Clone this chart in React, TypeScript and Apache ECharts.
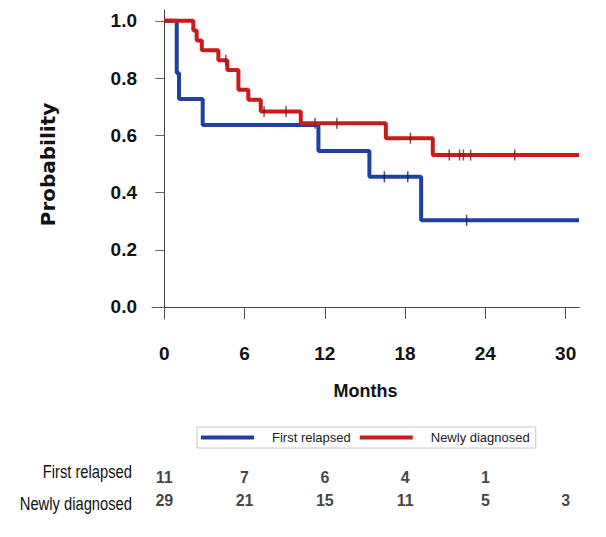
import React, { useEffect, useRef } from "react";
import * as echarts from "echarts";

const monthTicks = [0, 6, 12, 18, 24, 30];
const probTicks = [0, 0.2, 0.4, 0.6, 0.8, 1.0];

const groupNames = ["First relapsed", "Newly diagnosed"];

// Kaplan-Meier step points [month, probability]
const relapsedSteps = [
  [0, 1.0], [0.93, 0.818], [1.1, 0.727], [2.87, 0.636], [11.52, 0.545],
  [15.33, 0.455], [19.2, 0.303], [31, 0.303],
];
const relapsedCensored = [
  [16.45, 0.455], [18.2, 0.455], [22.6, 0.303],
];
const newlySteps = [
  [0, 1.0], [2.17, 0.966], [2.42, 0.931], [2.8, 0.897], [4.04, 0.862],
  [4.71, 0.828], [5.54, 0.759], [6.28, 0.724], [7.21, 0.683], [10.2, 0.642],
  [16.56, 0.59], [20.07, 0.531], [31, 0.531],
];
const newlyCensored = [
  [4.6, 0.862], [7.46, 0.683], [9.1, 0.683], [11.27, 0.642], [12.9, 0.642],
  [18.4, 0.59], [21.3, 0.531], [22.07, 0.531], [22.36, 0.531], [22.9, 0.531],
  [26.2, 0.531],
];

// Numbers at risk at months 0, 6, 12, ...
const atRiskRelapsed = [11, 7, 6, 4, 1];
const atRiskNewly = [29, 21, 15, 11, 5, 3];

const SANS = "'Liberation Sans', Arial, sans-serif";
const BLUE = "#1f40a2";
const RED = "#c81c1c";

export default function App() {
  const ref = useRef<HTMLDivElement>(null);
  useEffect(() => {
    if (!ref.current) return;
    const chart = echarts.init(ref.current, undefined, { renderer: "svg" });
    const riskData: any[] = [];
    atRiskRelapsed.forEach((n, i) => riskData.push([monthTicks[i], groupNames[0], n]));
    atRiskNewly.forEach((n, i) => riskData.push([monthTicks[i], groupNames[1], n]));

    chart.setOption({
      animation: false,
      backgroundColor: "#ffffff",
      grid: [
        { left: 152, top: 10, right: 27, bottom: 218 },
        { left: 152, top: 465.5, right: 27, height: 46 },
      ],
      legend: {
        data: groupNames,
        left: 197,
        top: 427,
        icon: "rect",
        itemWidth: 53,
        itemHeight: 4,
        itemGap: 9,
        padding: [4, 6, 4, 4],
        borderColor: "#c8c8c8",
        borderWidth: 1,
        textStyle: { fontFamily: SANS, fontSize: 13, color: "#222", padding: [0, 0, 0, 13] },
      },
      xAxis: [
        {
          type: "value",
          gridIndex: 0,
          min: -0.92,
          max: 31,
          splitLine: { show: false },
          axisLine: { lineStyle: { color: "#444", width: 1 } },
          axisTick: { customValues: monthTicks, length: 12, lineStyle: { color: "#555" } },
          axisLabel: {
            customValues: monthTicks,
            margin: 25,
            fontFamily: SANS,
            fontWeight: "bold",
            fontSize: 19,
            color: "#111",
          },
          name: "Months",
          nameLocation: "middle",
          nameGap: 63,
          nameTextStyle: { fontFamily: SANS, fontWeight: "bold", fontSize: 18, color: "#111" },
        },
        {
          type: "value",
          gridIndex: 1,
          min: -0.92,
          max: 31,
          show: false,
        },
      ],
      yAxis: [
        {
          type: "value",
          gridIndex: 0,
          min: -0.042,
          max: 1.038,
          splitLine: { show: false },
          axisLine: { show: true, lineStyle: { color: "#444", width: 1 } },
          axisTick: { show: true, customValues: probTicks, length: 9, lineStyle: { color: "#666" } },
          axisLabel: {
            customValues: probTicks,
            formatter: (v: number) => v.toFixed(1),
            margin: 15,
            fontFamily: SANS,
            fontWeight: "bold",
            fontSize: 19,
            color: "#111",
          },
          name: "Probability",
          nameLocation: "middle",
          nameRotate: 90,
          nameGap: 94,
          nameTextStyle: { fontFamily: "'DejaVu Sans', sans-serif", fontWeight: "bold", fontSize: 20, color: "#111" },
        },
        {
          type: "category",
          gridIndex: 1,
          data: groupNames,
          inverse: true,
          show: false,
        },
      ],
      graphic: [
        {
          type: "text",
          x: 132,
          y: 471,
          scaleX: 0.82,
          style: { text: groupNames[0], align: "right", verticalAlign: "middle", font: `18px ${SANS}`, fill: "#111" },
        },
        {
          type: "text",
          x: 132,
          y: 503,
          scaleX: 0.82,
          style: { text: groupNames[1], align: "right", verticalAlign: "middle", font: `18px ${SANS}`, fill: "#111" },
        },
      ],
      series: [
        {
          name: groupNames[0],
          type: "line",
          step: "end",
          data: relapsedSteps,
          symbol: "none",
          color: BLUE,
          lineStyle: { width: 4, color: BLUE },
          z: 2,
        },
        {
          name: groupNames[1],
          type: "line",
          step: "end",
          data: newlySteps,
          symbol: "none",
          color: RED,
          lineStyle: { width: 4, color: RED },
          z: 3,
        },
        {
          name: "censor-relapsed",
          type: "scatter",
          data: relapsedCensored,
          symbol: "rect",
          symbolSize: [1.5, 11],
          itemStyle: { color: "#1a2150" },
          z: 4,
        },
        {
          name: "censor-newly",
          type: "scatter",
          data: newlyCensored,
          symbol: "rect",
          symbolSize: [1.5, 11],
          itemStyle: { color: "#7a1a10" },
          z: 4,
        },
        {
          name: "at-risk",
          type: "scatter",
          xAxisIndex: 1,
          yAxisIndex: 1,
          data: riskData,
          symbolSize: 1,
          itemStyle: { color: "transparent" },
          label: {
            show: true,
            position: "inside",
            formatter: (p: any) => String(p.value[2]),
            fontFamily: SANS,
            fontWeight: "bold",
            fontSize: 16,
            color: "#111",
          },
        },
      ],
    });
    return () => chart.dispose();
  }, []);
  return (
    <div
      ref={ref}
      style={{ position: "fixed", left: 0, top: 0, width: 606, height: 537, background: "#fff" }}
    />
  );
}
